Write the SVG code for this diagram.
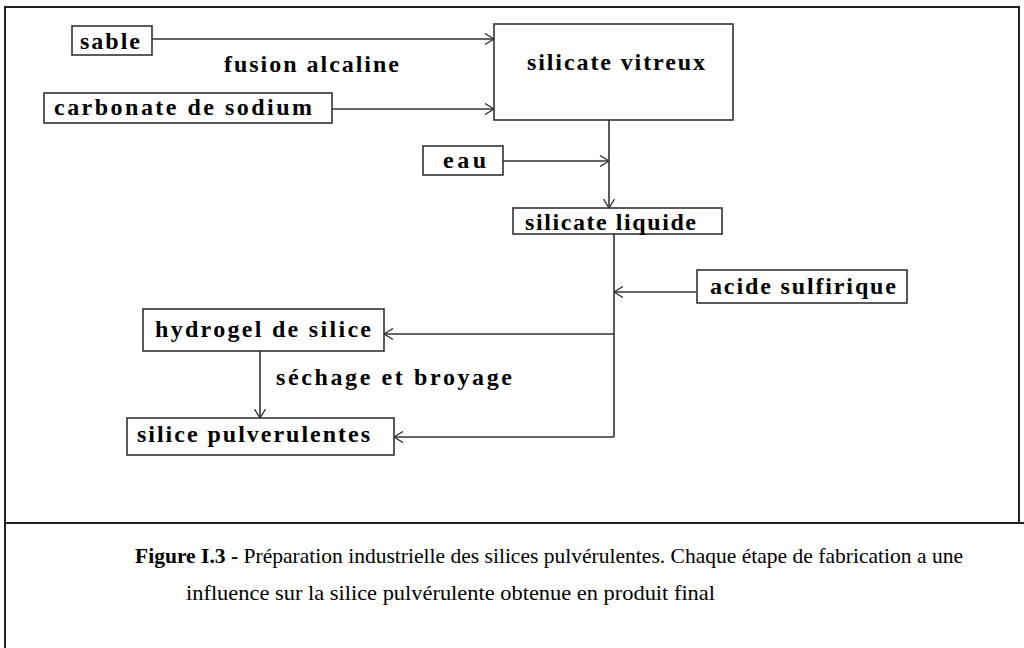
<svg xmlns="http://www.w3.org/2000/svg" width="1024" height="648" viewBox="0 0 1024 648">
<defs>
<style>
.frame{fill:none;stroke:#222;stroke-width:2}
.box{fill:#fff;stroke:#333;stroke-width:1.6}
.lbl{fill:#000}
.cap{fill:#000}
.edge{fill:none;stroke:#333;stroke-width:1.6}
</style>
<marker id="arr" viewBox="0 0 10 12" refX="10" refY="6" markerWidth="10" markerHeight="12" markerUnits="userSpaceOnUse" orient="auto">
<path d="M1,0.5 L10,6 L1,11.5" fill="none" stroke="#333" stroke-width="1.4"/>
</marker>
</defs>
<rect width="1024" height="648" fill="#fff"/>
<g id="frame">
<path class="frame" d="M5,648 V7 H1019 V523"/>
<line class="frame" x1="5" y1="523" x2="1024" y2="523"/>
</g>
<g font-family="'Liberation Serif', 'Times New Roman', serif" font-weight="bold" font-size="24">
<g id="connectors">
<line class="edge" x1="152" y1="39" x2="494" y2="39" marker-end="url(#arr)"/>
<line class="edge" x1="332" y1="109" x2="494" y2="109" marker-end="url(#arr)"/>
<line class="edge" x1="503" y1="161" x2="609" y2="161" marker-end="url(#arr)"/>
<line class="edge" x1="609" y1="120" x2="609" y2="208" marker-end="url(#arr)"/>
<line class="edge" x1="614" y1="234" x2="614" y2="437"/>
<line class="edge" x1="696" y1="292" x2="614" y2="292" marker-end="url(#arr)"/>
<line class="edge" x1="614" y1="334" x2="384" y2="334" marker-end="url(#arr)"/>
<line class="edge" x1="614" y1="437" x2="394" y2="437" marker-end="url(#arr)"/>
<line class="edge" x1="260" y1="351" x2="260" y2="418" marker-end="url(#arr)"/>
<text class="lbl" x="224" y="72" textLength="175" lengthAdjust="spacing">fusion alcaline</text>
<text class="lbl" x="276" y="385" textLength="236" lengthAdjust="spacing">séchage et broyage</text>
</g>
<g id="sable">
<rect class="box" x="72" y="26" width="80" height="29"/>
<text class="lbl" x="80" y="49" textLength="60" lengthAdjust="spacing">sable</text>
</g>
<g id="carbonate">
<rect class="box" x="44" y="93" width="288" height="30"/>
<text class="lbl" x="54" y="115" textLength="258" lengthAdjust="spacing">carbonate de sodium</text>
</g>
<g id="silicate-vitreux">
<rect class="box" x="494" y="24" width="239" height="96"/>
<text class="lbl" x="527" y="70" textLength="178" lengthAdjust="spacing">silicate vitreux</text>
</g>
<g id="eau">
<rect class="box" x="423" y="146" width="80" height="29"/>
<text class="lbl" x="443" y="168" textLength="43" lengthAdjust="spacing">eau</text>
</g>
<g id="silicate-liquide">
<rect class="box" x="513" y="208" width="209" height="26"/>
<text class="lbl" x="525" y="230" textLength="171" lengthAdjust="spacing">silicate liquide</text>
</g>
<g id="acide">
<rect class="box" x="697" y="270" width="210" height="33"/>
<text class="lbl" x="710" y="294" textLength="186" lengthAdjust="spacing">acide sulfirique</text>
</g>
<g id="hydrogel">
<rect class="box" x="143" y="309" width="241" height="42"/>
<text class="lbl" x="155" y="337" textLength="216" lengthAdjust="spacing">hydrogel de silice</text>
</g>
<g id="silice">
<rect class="box" x="127" y="418" width="267" height="37"/>
<text class="lbl" x="137" y="442" textLength="233" lengthAdjust="spacing">silice pulverulentes</text>
</g>
</g>
<g id="caption" font-family="'Liberation Serif', 'Times New Roman', serif" font-size="21">
<text class="cap" x="135" y="563" textLength="828" lengthAdjust="spacingAndGlyphs"><tspan font-weight="bold">Figure I.3 - </tspan>Préparation industrielle des silices pulvérulentes. Chaque étape de fabrication a une</text>
<text class="cap" x="186" y="600" textLength="529" lengthAdjust="spacingAndGlyphs">influence sur la silice pulvérulente obtenue en produit final</text>
</g>
</svg>
